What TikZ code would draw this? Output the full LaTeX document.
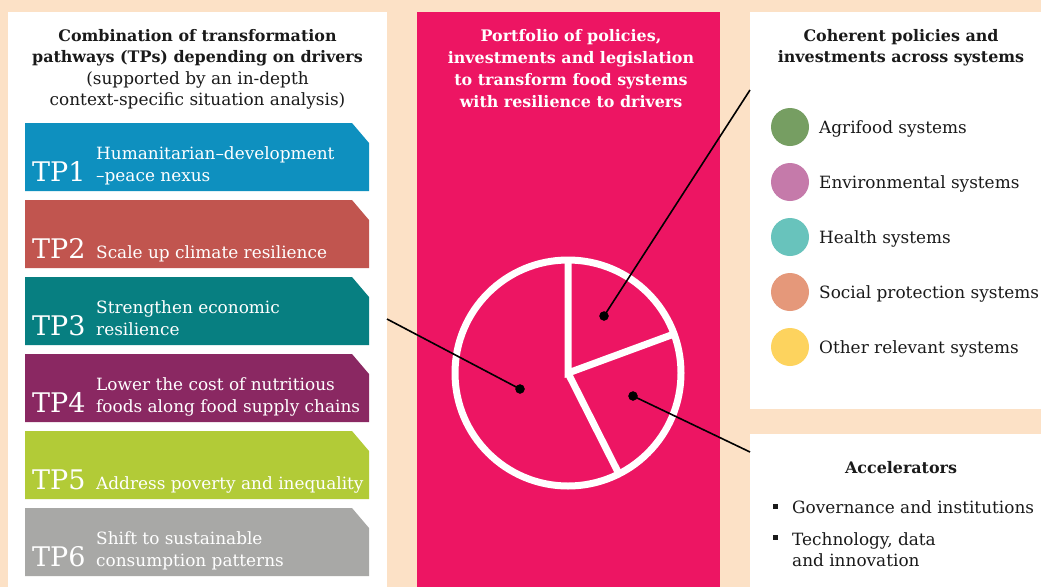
\documentclass[tikz,border=0pt]{standalone}
\usepackage{fontspec}
\setmainfont{DejaVu Serif}
\usetikzlibrary{positioning}

\definecolor{peach}{HTML}{FCE1C6}
\definecolor{portpink}{HTML}{ED1563}
\definecolor{inkdark}{HTML}{1A1A1A}
\definecolor{tpA}{HTML}{0E90BF}
\definecolor{tpB}{HTML}{C1554F}
\definecolor{tpC}{HTML}{077F81}
\definecolor{tpD}{HTML}{8A2862}
\definecolor{tpE}{HTML}{B2CB37}
\definecolor{tpF}{HTML}{A8A8A6}
\definecolor{sysA}{HTML}{769E62}
\definecolor{sysB}{HTML}{C57AAA}
\definecolor{sysC}{HTML}{68C3BC}
\definecolor{sysD}{HTML}{E5987A}
\definecolor{sysE}{HTML}{FDD35E}

\newcommand{\twolines}[2]{\begin{tabular}[b]{@{}l@{}}#1\\#2\end{tabular}}
\newcommand{\topblock}[1]{\begin{tabular}[t]{@{}c@{}}#1\end{tabular}}
\newcommand{\leftblock}[1]{\begin{tabular}[t]{@{}l@{}}#1\end{tabular}}

\begin{document}
\begin{tikzpicture}[x=1pt,y=-1pt]
\tikzset{
  tpbox/.pic={\fill[#1] (0,0) -- (327,0) -- (344,20) -- (344,68) -- (0,68) -- cycle;},
  tpnum/.style={anchor=base west, inner sep=0pt, text=white, font=\fontsize{27}{27}\selectfont},
  tptext/.style={anchor=base west, inner sep=0pt, text=white, font=\fontsize{16.9}{22}\selectfont},
  headtext/.style={anchor=base, inner sep=0pt, text=inkdark, font=\fontsize{15.9}{21.5}\selectfont},
  systext/.style={anchor=base west, inner sep=0pt, text=inkdark, font=\fontsize{16.9}{21}\selectfont},
  pieline/.style={white, line width=7pt},
  link/.style={black, line width=1.6pt}
}

% background and panels
\useasboundingbox (0,0) rectangle (1041,587);
\fill[peach] (0,0) rectangle (1041,587);
\fill[white] (8,12) rectangle (387,587);
\fill[portpink] (417,12) rectangle (720,587);
\fill[white] (750,12) rectangle (1041,409);
\fill[white] (750,434) rectangle (1041,587);

% left panel: transformation pathways
\node[headtext] (tpTitle) at (197.5,41) {\topblock{\textbf{Combination of transformation}\\
  \textbf{pathways (TPs) depending on drivers}\\{\fontsize{16.9}{21.5}\selectfont(supported by an in-depth}\\
  {\fontsize{16.9}{21.5}\selectfont context-specific situation analysis)}}};

\pic at (25,123) {tpbox=tpA};
\pic at (25,200) {tpbox=tpB};
\pic at (25,277) {tpbox=tpC};
\pic at (25,354) {tpbox=tpD};
\pic at (25,431) {tpbox=tpE};
\pic at (25,508) {tpbox=tpF};

\node[tpnum] (tpnumA) at (32,181) {TP1};
\node[tpnum] (tpnumB) at (32,258) {TP2};
\node[tpnum] (tpnumC) at (32,335) {TP3};
\node[tpnum] (tpnumD) at (32,412) {TP4};
\node[tpnum] (tpnumE) at (32,489) {TP5};
\node[tpnum] (tpnumF) at (32,566) {TP6};

\node[tptext] (tptextA) at (96,181) {\twolines{Humanitarian--development}{--peace nexus}};
\node[tptext] (tptextB) at (96,258) {Scale up climate resilience};
\node[tptext] (tptextC) at (96,335) {\twolines{Strengthen economic}{resilience}};
\node[tptext] (tptextD) at (96,412) {\twolines{Lower the cost of nutritious}{foods along food supply chains}};
\node[tptext] (tptextE) at (96,489) {Address poverty and inequality};
\node[tptext] (tptextF) at (96,566) {\twolines{Shift to sustainable}{consumption patterns}};

% middle panel: portfolio
\node[headtext, text=white, font=\fontsize{15.9}{22}\selectfont] (portTitle) at (571,41)
  {\topblock{\textbf{Portfolio of policies,}\\\textbf{investments and legislation}\\
  \textbf{to transform food systems}\\\textbf{with resilience to drivers}}};

\coordinate (pc) at (568,373);
\coordinate (sliceTop) at (568,260);
\coordinate (sliceRight) at (674,334);
\coordinate (sliceLow) at (619,474);
\draw[pieline] (pc) circle (113);
\draw[pieline] (sliceTop) -- (pc) -- (sliceRight);
\draw[pieline] (pc) -- (sliceLow);

% right panels: systems and accelerators
\node[headtext] (sysTitle) at (901,41) {\topblock{\textbf{Coherent policies and}\\\textbf{investments across systems}}};

\fill[sysA] (790,127) circle (19);
\fill[sysB] (790,182) circle (19);
\fill[sysC] (790,237) circle (19);
\fill[sysD] (790,292) circle (19);
\fill[sysE] (790,347) circle (19);

\node[systext] (sysA) at (819,133) {Agrifood systems};
\node[systext] (sysB) at (819,188) {Environmental systems};
\node[systext] (sysC) at (819,243) {Health systems};
\node[systext] (sysD) at (819,298) {Social protection systems};
\node[systext] (sysE) at (819,353) {Other relevant systems};

\node[headtext] (accTitle) at (901,473) {\textbf{Accelerators}};
\fill[inkdark] (773,504) rectangle (778,509);
\fill[inkdark] (773,535) rectangle (778,540);
\node[systext] (accA) at (792,513) {Governance and institutions};
\node[systext] (accB) at (792,545) {\leftblock{Technology, data\\and innovation}};

% connectors from the pie slices
\coordinate (dotTP) at (520,389);
\coordinate (dotSys) at (604,316);
\coordinate (dotAcc) at (633,396);
\coordinate (tpEdge) at (387,319);
\coordinate (sysEdge) at (750,90);
\coordinate (accEdge) at (750,452);

\draw[link] (tpEdge) -- (dotTP);
\draw[link] (sysEdge) -- (dotSys);
\draw[link] (accEdge) -- (dotAcc);

\filldraw[color=black, fill=black] (dotTP) circle (4.5);
\filldraw[color=black, fill=black] (dotSys) circle (4.5);
\filldraw[color=black, fill=black] (dotAcc) circle (4.5);
\end{tikzpicture}
\end{document}
